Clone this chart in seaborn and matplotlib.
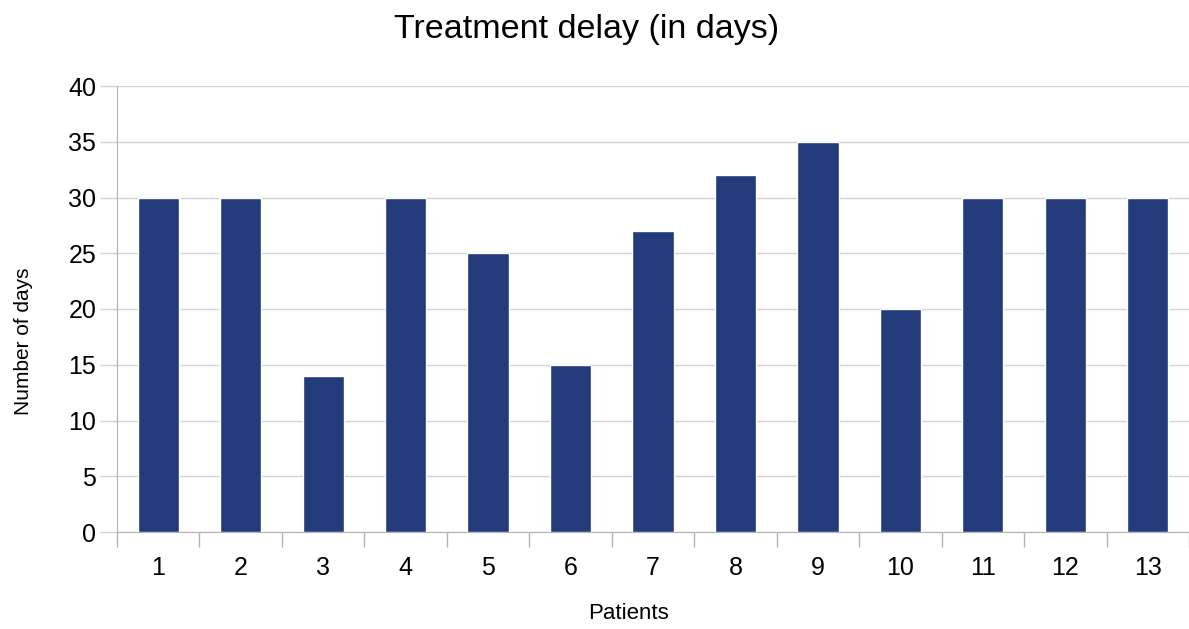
import matplotlib
matplotlib.use("Agg")
import matplotlib.pyplot as plt
import seaborn as sns
import pandas as pd
import numpy as np
from matplotlib.ticker import FixedLocator

# data
patients = ["1", "2", "3", "4", "5", "6", "7", "8", "9", "10", "11", "12", "13"]
days = [30, 30, 14, 30, 25, 15, 27, 32, 35, 20, 30, 30, 30]

df = pd.DataFrame({"Patients": patients, "Days": days})

sns.set_style("white")
plt.rcParams["font.family"] = ["Liberation Sans", "DejaVu Sans"]
plt.rcParams["text.color"] = "black"
plt.rcParams["xtick.color"] = "black"
plt.rcParams["ytick.color"] = "black"
plt.rcParams["axes.labelcolor"] = "black"

fig = plt.figure(figsize=(11.89, 6.29), dpi=100)
ax = fig.add_axes([117 / 1189, 1 - 532 / 629, 1072 / 1189, 446 / 629])

sns.barplot(data=df, x="Patients", y="Days", color="#233b7a", width=0.5,
            saturation=1, ax=ax, zorder=3)

ax.set_ylim(0, 40)
ax.set_xlim(-0.5, len(patients) - 0.5)
ax.set_yticks(range(0, 41, 5))
ax.yaxis.grid(True, color="#d3d3d3", linewidth=1, zorder=0)
ax.set_axisbelow(True)

# ticks between categories, like the original
ax.xaxis.set_minor_locator(FixedLocator(np.arange(-0.5, len(patients), 1.0)))
ax.tick_params(axis="x", which="minor", bottom=True, length=11, color="#b3b3b3",
               width=1, direction="out")
ax.tick_params(axis="x", which="major", bottom=True, length=0, labelsize=18, pad=17)
ax.tick_params(axis="y", left=True, length=12, color="#d3d3d3", width=1,
               labelsize=18, pad=3)

for s in ["top", "right"]:
    ax.spines[s].set_visible(False)
ax.spines["left"].set_color("#b3b3b3")
ax.spines["bottom"].set_color("#b3b3b3")

ax.set_xlabel("Patients", fontsize=16)
ax.set_ylabel("Number of days", fontsize=15)
ax.xaxis.set_label_coords(0.477, -0.16)
ax.yaxis.set_label_coords(-0.078, 0.428)
fig.text(0.493, 1 - 38 / 629, "Treatment delay (in days)", fontsize=24.5,
         ha="center", va="baseline")

fig.savefig("out.png", dpi=100)
